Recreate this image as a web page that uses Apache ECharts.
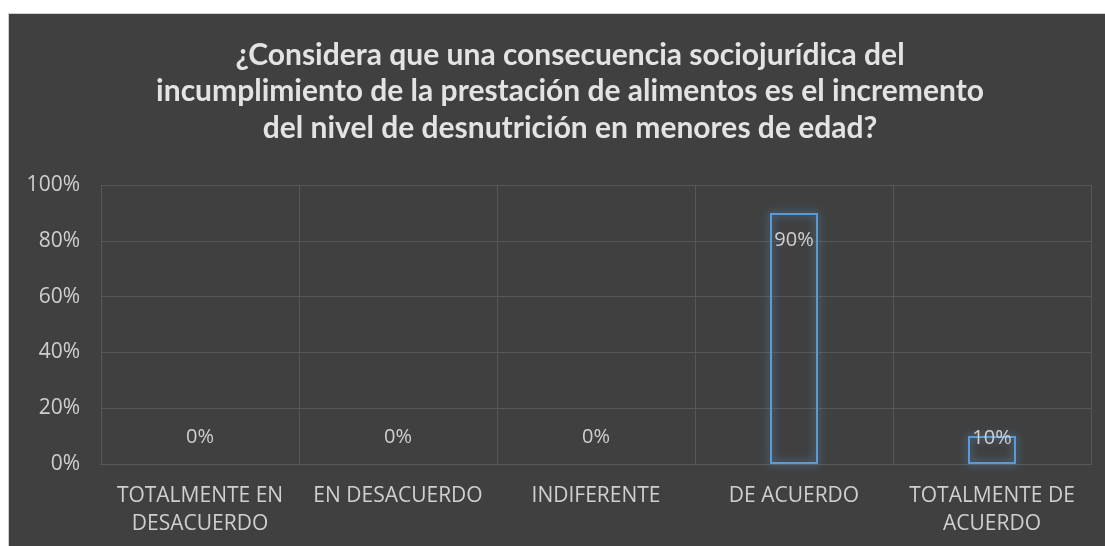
<!DOCTYPE html>
<html><head><meta charset="utf-8">
<script src="https://cdn.jsdelivr.net/npm/echarts@6/dist/echarts.min.js"></script>
<style>
html,body{margin:0;padding:0;background:#fff;width:1105px;height:546px;overflow:hidden;}
#c{position:absolute;left:8px;top:13px;width:1097px;height:533px;background:#404040;border-left:1px solid #cfcfcf;border-top:1px solid #cfcfcf;}
</style></head>
<body><div id="c"></div>
<script>
const titleText = "¿Considera que una consecuencia sociojurídica del\nincumplimiento de la prestación de alimentos es el incremento\ndel nivel de desnutrición en menores de edad?";
const categories = ["TOTALMENTE EN\nDESACUERDO", "EN DESACUERDO", "INDIFERENTE", "DE ACUERDO", "TOTALMENTE DE\nACUERDO"];
const values = [0, 0, 0, 90, 10];
const yTicks = [0, 20, 40, 60, 80, 100];

const labelDist = v => v === 0 ? 17 : (v < 20 ? -12 : -37);
const chart = echarts.init(document.getElementById('c'));
chart.setOption({
  backgroundColor: '#404040',
  animation: false,
  title: {
    text: titleText, left: 556, top: 18, textAlign: 'center',
    textStyle: {color: '#e3e3e3', fontFamily: 'Lato', fontWeight: 'bold', fontSize: 30, lineHeight: 36.5}
  },
  grid: {left: 92, right: 15, top: 171, bottom: 83},
  xAxis: {
    type: 'category', data: categories, boundaryGap: true,
    axisLine: {show: true, lineStyle: {color: '#595959'}},
    axisTick: {show: false},
    splitLine: {show: true, lineStyle: {color: '#575757', width: 1}},
    axisLabel: {color: '#cfcfcf', fontFamily: 'Open Sans', fontSize: 21, lineHeight: 28, margin: 18, interval: 0}
  },
  yAxis: {
    type: 'value', min: yTicks[0], max: yTicks[yTicks.length - 1], interval: 20,
    axisLine: {show: false}, axisTick: {show: false},
    splitLine: {lineStyle: {color: '#575757', width: 1}},
    axisLabel: {color: '#cfcfcf', fontFamily: 'Open Sans', fontSize: 21, margin: 21, formatter: v => v + '%'}
  },
  series: [{
    type: 'bar', barWidth: 48,
    data: values.map(v => ({
      value: v,
      itemStyle: v === 0 ? {borderWidth: 0, shadowBlur: 0} : {},
      label: {show: true, position: 'top', distance: labelDist(v)}
    })),
    itemStyle: {
      color: 'rgba(0,0,0,0)', borderColor: '#5b9bd5', borderWidth: 2,
      shadowBlur: 9, shadowColor: 'rgba(91,155,213,0.9)'
    },
    label: {color: '#cfcfcf', fontFamily: 'Open Sans', fontSize: 20, formatter: p => p.value + '%'}
  }]
});
</script></body></html>
